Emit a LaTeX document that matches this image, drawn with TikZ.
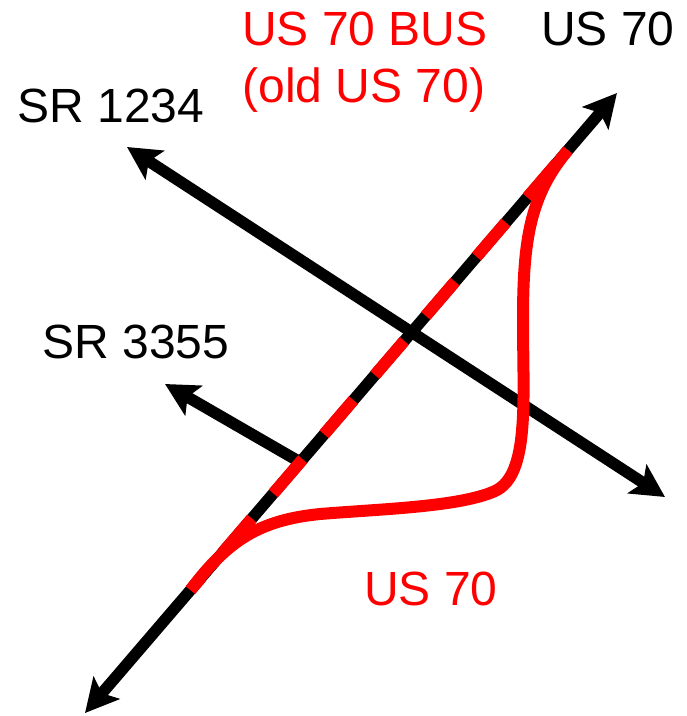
\documentclass[tikz,border=0pt]{standalone}
\usepackage{fontspec}
\setmainfont{Liberation Sans}
\usetikzlibrary{arrows.meta}
\definecolor{busred}{RGB}{255,0,0}
\begin{document}
\begin{tikzpicture}[
x=1pt,y=-1pt,
road/.style={line width=11.5pt,{Stealth[length=33pt,width=34pt,inset=7pt]}-{Stealth[length=33pt,width=34pt,inset=7pt]}},
spur/.style={line width=11.5pt,-{Stealth[length=33pt,width=34pt,inset=7pt]}},
busroute/.style={busred,line width=12pt,dash pattern=on 45pt off 33pt,dash phase=60.5pt},
newroute/.style={busred,line width=12pt},
every node/.style={font=\fontsize{48}{50}\selectfont,anchor=base,inner sep=0pt}
]
\useasboundingbox (0,0) rectangle (687,716);
% road ends
\coordinate (swEnd) at (85,713);
\coordinate (neEnd) at (617,93);
\coordinate (nwEnd) at (127,147);
\coordinate (seEnd) at (665,497);
\coordinate (spurEnd) at (165,384);
\coordinate (spurJoin) at (300,462);
\coordinate (busTop) at (568,150);
\coordinate (busBot) at (190.5,590);
% roads
\draw[road] (swEnd) -- (neEnd);
\draw[road] (nwEnd) -- (seEnd);
\draw[spur] (spurJoin) -- (spurEnd);
% old route on the main line
\draw[busroute] (busTop) -- (busBot);
% new route
\draw[newroute] (busTop) .. controls (530,195) and (523,240) .. (523,320)
  .. controls (523,400) and (530,475) .. (495,491)
  .. controls (460,507) and (380,509) .. (320,514)
  .. controls (260,520) and (228,540) .. (busBot);
% labels
\node[text=busred] (busLbl) at (365,45) {US 70 BUS};
\node[text=busred] (oldLbl) at (364,102) {(old US 70)};
\node (usLbl) at (608,45) {US 70};
\node (srOneLbl) at (111,122) {SR 1234};
\node (srTwoLbl) at (136,358) {SR 3355};
\node[text=busred] (newLbl) at (431,605) {US 70};
\end{tikzpicture}
\end{document}
